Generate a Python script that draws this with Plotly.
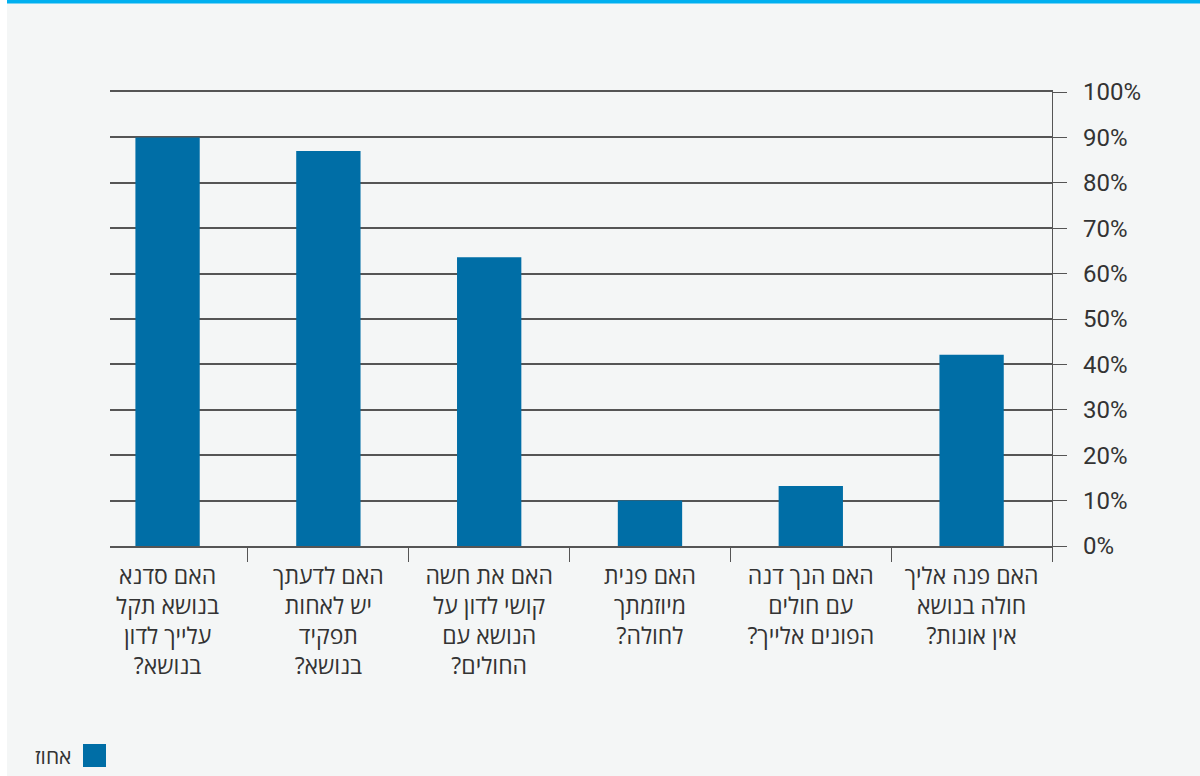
import plotly.graph_objects as go

categories = [
    "האם סדנא<br>בנושא תקל<br>עלייך לדון<br>בנושא?\u200f",
    "האם לדעתך<br>יש לאחות<br>תפקיד<br>בנושא?\u200f",
    "האם את חשה<br>קושי לדון על<br>הנושא עם<br>החולים?\u200f",
    "האם פנית<br>מיוזמתך<br>לחולה?\u200f",
    "האם הנך דנה<br>עם חולים<br>הפונים אלייך?\u200f",
    "האם פנה אליך<br>חולה בנושא<br>אין אונות?\u200f",
]
values = [90, 87, 63.6, 10, 13.2, 42.1]
y_tickvals = [0, 10, 20, 30, 40, 50, 60, 70, 80, 90, 100]
y_ticktext = [f"{v}%" for v in y_tickvals]
series_name = "אחוז"

BAR = "#006EA6"
BG = "#F4F6F6"
GRID = "#555555"
TXT = "#333333"

W, H = 1200, 776
L, R, T, B = 110, 148, 92, 230
pw, ph = W - L - R, H - T - B

def px_x(x):
    return (x - L) / pw

def px_y(y):
    return (H - B - y) / ph

fig = go.Figure()
fig.add_trace(go.Bar(
    x=categories, y=values, name=series_name,
    marker=dict(color=BAR, line=dict(width=0)), width=0.4, showlegend=False,
))

fig.update_layout(
    width=W, height=H,
    margin=dict(l=L, r=R, t=T, b=B, autoexpand=False),
    paper_bgcolor=BG, plot_bgcolor=BG,
    font=dict(family="Open Sans, DejaVu Sans, sans-serif", color=TXT, size=24),
    xaxis=dict(
        type="category", categoryorder="array", categoryarray=categories,
        range=[-0.358, 5.5], tickson="boundaries", ticks="outside", ticklen=14,
        tickwidth=1.3, tickcolor=GRID, showline=True, mirror=True, linecolor=GRID,
        linewidth=1.5, showgrid=False, zeroline=False, tickangle=0,
        ticklabelstandoff=9,
        tickfont=dict(family="Open Sans, DejaVu Sans, sans-serif", size=23, color=TXT),
    ),
    yaxis=dict(
        side="right", range=[0, 100], tickmode="array", tickvals=y_tickvals,
        ticktext=y_ticktext, ticks="outside", ticklen=14, tickwidth=1.3,
        tickcolor=GRID, showline=True, linecolor=GRID, linewidth=1.3,
        showgrid=True, gridcolor=GRID, gridwidth=1.5, zeroline=False,
        tickfont=dict(family="Roboto, Liberation Sans, sans-serif", size=24, color=TXT),
        ticklabelstandoff=11,
    ),
    shapes=[
        dict(type="rect", xref="paper", yref="paper", layer="below",
             x0=px_x(0), x1=px_x(7), y0=px_y(H), y1=px_y(0),
             fillcolor="white", line=dict(width=0)),
        dict(type="rect", xref="paper", yref="paper", layer="below",
             x0=px_x(7), x1=px_x(W), y0=px_y(3.5), y1=px_y(0),
             fillcolor="#00B0F0", line=dict(width=0)),
        dict(type="rect", xref="paper", yref="paper",
             x0=px_x(83), x1=px_x(106), y0=px_y(767), y1=px_y(744),
             fillcolor=BAR, line=dict(width=0)),
    ],
    annotations=[
        dict(text=series_name, xref="paper", yref="paper", x=px_x(73), y=px_y(756),
             xanchor="right", yanchor="middle", showarrow=False,
             font=dict(family="Open Sans, DejaVu Sans, sans-serif", size=21, color=TXT)),
    ],
)

fig.write_html("out.html", config={"displayModeBar": False})

with open("out.html", encoding="utf-8") as f:
    html = f.read()
html = html.replace("<body>", '<body style="margin:0;padding:0;overflow:hidden">', 1)
with open("out.html", "w", encoding="utf-8") as f:
    f.write(html)
